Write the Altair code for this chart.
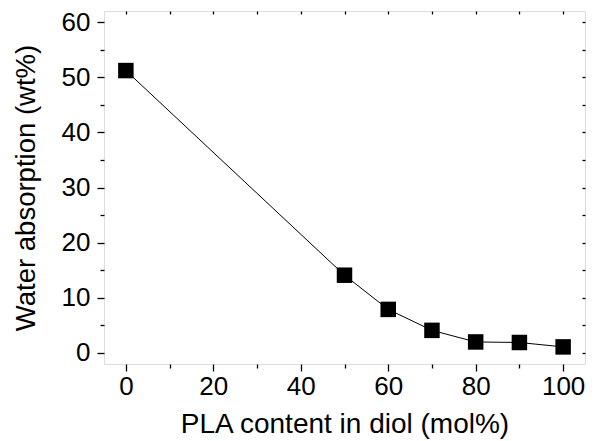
import altair as alt
import pandas as pd

pla_content = [0, 50, 60, 70, 80, 90, 100]
water_abs = [51.2, 14.1, 7.9, 4.1, 2.0, 1.9, 1.1]

x_major = [0, 20, 40, 60, 80, 100]
x_minor = [10, 30, 50, 70, 90]
x_all = [0, 10, 20, 30, 40, 50, 60, 70, 80, 90, 100]
y_major = [0, 10, 20, 30, 40, 50, 60]
y_minor = [5, 15, 25, 35, 45, 55]
y_all = [0, 5, 10, 15, 20, 25, 30, 35, 40, 45, 50, 55, 60]

df = pd.DataFrame({"x": pla_content, "y": water_abs})

FONT = "Liberation Sans"
xs = alt.Scale(domain=[-5, 105], nice=False, zero=False)
ys = alt.Scale(domain=[-2, 62], nice=False, zero=False)

base = alt.Chart(df)

common = dict(domain=False, grid=False, tickColor="black", tickWidth=1.3,
              labelFont=FONT, labelColor="black", titleFont=FONT, titleColor="black")

line = base.mark_line(color="black", strokeWidth=1).encode(
    x=alt.X("x:Q", scale=xs, axis=alt.Axis(orient="bottom", values=x_major, tickSize=7,
                                           labelFontSize=26, labelPadding=2,
                                           title="PLA content in diol (mol%)",
                                           titleFontSize=28, titleFontWeight="normal",
                                           titlePadding=11, **common)),
    y=alt.Y("y:Q", scale=ys, axis=alt.Axis(orient="left", values=y_major, tickSize=7,
                                           labelFontSize=26, labelPadding=7,
                                           title="Water absorption (wt%)",
                                           titleFontSize=27.5, titleFontWeight="normal",
                                           titleX=-64, titleY=176.5, titleBaseline="bottom",
                                           **common)),
)
pts = base.mark_point(shape="square", filled=True, color="black", size=240, opacity=1).encode(
    x=alt.X("x:Q", scale=xs), y=alt.Y("y:Q", scale=ys)
)

minor = base.mark_point(opacity=0).encode(
    x=alt.X("x:Q", scale=xs, axis=alt.Axis(orient="bottom", values=x_minor, tickSize=4,
                                           labels=False, title=None, **common)),
    y=alt.Y("y:Q", scale=ys, axis=alt.Axis(orient="left", values=y_minor, tickSize=4,
                                           labels=False, title=None, **common)),
)

mirror = base.mark_point(opacity=0).encode(
    x=alt.X("x:Q", scale=xs, axis=alt.Axis(orient="top", values=x_all, tickSize=3, offset=-3,
                                           labels=False, title=None, **common)),
    y=alt.Y("y:Q", scale=ys, axis=alt.Axis(orient="right", values=y_all, tickSize=3, offset=-3,
                                           labels=False, title=None, **common)),
)

main = alt.layer(line, pts)

chart = alt.layer(main, minor, mirror).resolve_axis(x="independent", y="independent").properties(
    width=481, height=353,
    autosize=alt.AutoSizeParams(type="none"),
    padding={"left": 104, "top": 11, "right": 11, "bottom": 77},
).configure_view(stroke="black", strokeWidth=1.5).configure(background="white")

chart.save("out.html", embed_options={"renderer": "svg", "actions": False})
